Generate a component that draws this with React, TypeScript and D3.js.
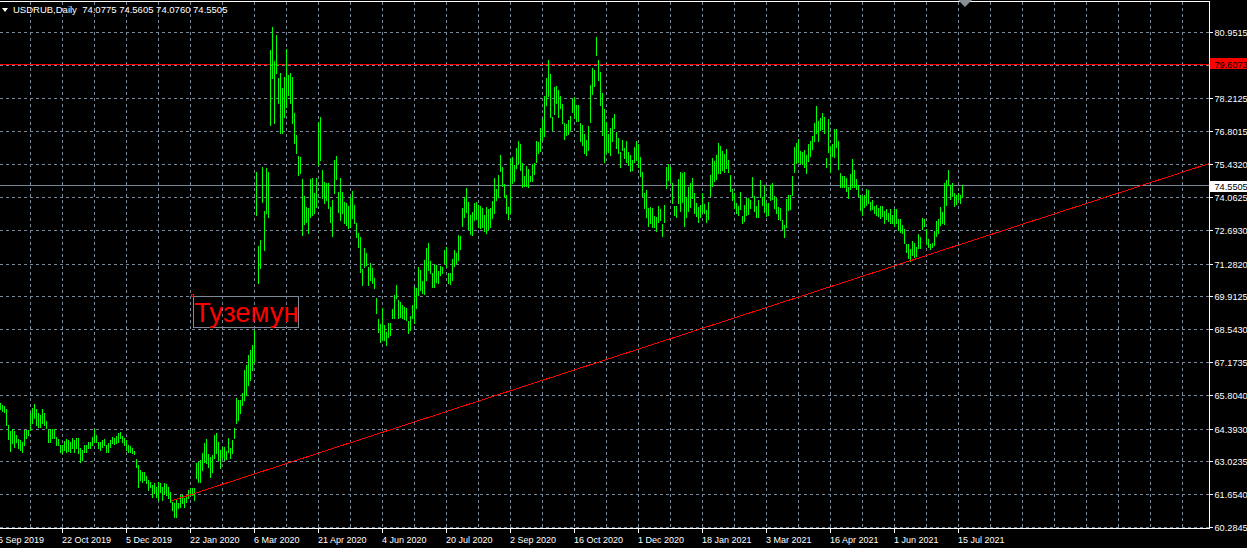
import React from "react";
import * as d3 from "d3";

// ---------- data ----------
const symbol = "USDRUB";
const timeframe = "Daily";
const lastBarOHLC = ["74.0775", "74.5605", "74.0760", "74.5505"];

// daily highs, oldest -> newest
const highs = [
  65.45,65.37,65.33,65.20,64.54,64.28,64.37,64.28,64.12,63.95,63.91,63.82,64.33,64.33,64.33,65.04,
  65.25,65.41,65.20,65.04,64.95,65.20,65.04,64.70,64.33,64.37,64.37,64.37,64.03,63.95,63.70,63.70,
  63.87,63.95,63.91,63.82,63.99,63.91,63.99,63.99,63.57,63.49,63.70,63.70,63.82,63.82,64.03,64.37,
  64.12,63.82,63.82,63.91,63.95,63.70,63.78,63.91,64.03,63.99,64.08,64.20,64.24,64.08,63.99,63.91,
  63.70,63.66,63.57,63.45,63.11,62.86,62.65,62.57,62.57,62.40,62.24,62.15,62.03,62.11,61.94,62.15,
  62.11,61.94,62.11,62.07,61.94,61.73,61.32,61.27,61.40,61.27,61.61,61.61,61.48,61.61,61.82,61.90,
  61.90,61.90,62.95,62.99,63.07,63.36,63.78,63.95,63.32,63.20,63.28,64.12,64.20,63.82,63.49,63.62,
  63.62,63.45,63.99,63.57,63.91,64.41,65.66,65.58,65.58,65.87,66.83,67.04,67.46,67.67,67.88,68.51,
  75.12,72.02,72.27,75.33,73.48,75.26,75.12,80.21,81.18,79.72,80.84,79.03,79.24,78.61,79.09,80.24,
  79.17,79.24,79.09,77.56,76.66,75.78,75.75,74.80,74.11,73.66,73.59,74.80,74.85,74.22,74.85,77.21,
  77.42,75.19,74.70,74.64,74.66,73.66,73.94,75.61,75.78,74.29,74.85,74.29,73.87,73.80,73.69,74.08,
  74.33,73.73,72.99,72.55,72.41,71.04,71.92,71.71,71.15,71.29,71.08,70.67,69.83,68.95,
  68.76,69.43,68.71,68.43,68.80,68.80,69.38,69.97,70.39,69.76,69.69,69.55,69.48,69.43,68.89,69.09,
  69.55,70.32,70.26,71.15,71.01,70.55,71.43,71.93,72.14,71.39,70.89,71.26,71.22,70.98,71.18,71.15,
  71.85,71.98,70.90,70.90,71.47,71.85,71.74,72.48,72.44,73.61,74.08,74.44,73.87,73.31,73.45,73.81,
  73.87,73.73,73.69,73.61,73.31,73.65,73.56,73.61,73.91,74.86,74.40,74.99,75.82,75.33,74.61,74.15,73.65,
  75.70,75.74,75.40,76.11,76.38,76.28,75.50,74.94,75.36,75.24,74.94,75.44,75.50,76.38,76.34,76.95,
  77.33,78.29,79.04,79.79,79.21,77.42,78.66,78.71,78.51,78.29,77.95,77.16,77.12,77.28,77.45,78.16,
  78.25,77.91,77.91,77.16,77.08,76.70,76.45,77.03,78.75,79.46,79.37,80.75,79.79,79.30,78.41,77.74,
  77.21,76.70,76.95,77.37,77.53,76.79,76.53,75.96,76.45,76.11,76.38,75.96,75.82,75.61,76.17,76.38,
  76.28,75.74,75.12,74.23,74.36,73.61,73.66,73.61,73.27,73.24,73.69,73.56,72.94,73.73,75.33,75.44,
  75.33,74.64,73.69,73.69,74.82,75.12,75.08,75.12,74.08,74.50,74.64,74.86,74.23,73.81,73.66,
  73.73,74.23,73.77,73.52,73.87,74.99,75.68,75.58,75.82,76.31,76.20,76.00,75.86,76.06,75.61,74.99,
  74.39,74.22,73.80,73.69,74.29,73.27,73.73,74.01,74.01,73.94,74.89,74.11,73.69,73.94,74.78,74.08,
  74.57,73.80,73.83,74.57,74.66,74.11,74.01,73.66,73.59,73.10,72.90,73.97,74.15,74.15,74.94,76.14,
  76.31,76.48,76.00,75.96,76.03,75.82,76.28,76.38,76.59,77.17,77.87,77.25,77.35,77.59,77.42,75.68,
  77.31,76.20,76.28,76.90,76.90,76.38,75.08,74.94,74.94,74.85,74.50,75.03,75.64,75.19,74.81,74.57,
  74.15,74.11,74.15,74.39,74.36,73.87,73.94,73.69,73.73,73.59,73.69,73.69,73.49,73.55,73.38,
  73.55,73.31,73.55,73.55,73.13,73.13,72.90,72.72,72.10,72.10,71.88,72.24,72.13,71.96,72.52,72.38,
  73.17,73.13,72.72,72.30,72.10,72.15,72.66,73.07,73.13,73.66,73.45,74.66,74.78,75.19,74.57,74.64,
  74.25,74.15,74.25,74.15,74.5605,
];

// daily lows, oldest -> newest
const lows = [
  65.20,65.12,65.08,64.54,63.95,63.45,63.78,63.62,63.82,63.57,63.49,63.41,63.70,63.99,64.12,64.33,
  64.62,64.83,64.54,64.45,64.45,64.62,64.54,64.41,63.82,63.82,63.99,63.99,63.70,63.70,63.41,63.36,
  63.49,63.41,63.45,63.41,63.57,63.41,63.57,63.36,62.99,63.07,63.41,63.41,63.57,63.57,63.70,63.82,
  63.82,63.57,63.49,63.62,63.70,63.41,63.41,63.62,63.78,63.74,63.78,63.82,63.99,63.82,63.70,63.49,
  63.41,63.41,63.36,63.32,62.78,61.94,62.24,62.15,62.24,62.11,61.82,61.94,61.53,61.69,61.53,61.40,
  61.73,61.40,61.69,61.61,61.48,61.32,60.98,60.69,60.69,61.07,61.11,61.27,61.11,61.32,61.48,61.61,
  61.61,61.40,62.32,62.15,62.15,62.65,62.99,62.95,62.78,62.36,62.57,63.16,63.36,63.07,62.74,63.20,
  63.07,63.11,63.41,63.16,63.36,63.99,64.62,64.74,65.04,65.37,65.58,65.79,66.21,66.42,66.83,67.17,
  73.31,70.46,71.08,73.87,71.85,73.38,73.24,77.07,79.03,77.15,79.24,77.98,76.75,76.73,77.42,77.84,
  78.33,77.98,77.15,76.31,75.89,74.99,75.06,72.48,72.94,73.03,72.55,73.24,73.31,73.38,73.66,75.40,
  75.61,74.01,73.80,73.94,73.59,73.03,72.43,74.22,74.80,73.45,73.10,73.38,72.97,72.90,72.76,72.82,
  73.17,72.97,72.41,71.99,70.94,70.39,71.15,71.22,70.39,70.60,70.46,70.25,69.20,68.43,
  68.02,68.09,68.09,67.88,68.23,68.30,69.01,69.01,69.84,69.01,69.06,69.01,68.97,68.92,68.38,68.51,
  69.01,68.80,69.43,69.97,70.18,70.05,70.01,70.60,71.01,70.89,70.32,70.32,70.52,70.48,70.80,70.90,
  71.32,71.14,70.46,70.43,70.60,71.18,71.29,71.43,71.89,72.85,73.24,73.45,72.73,72.52,72.48,73.10,
  73.15,72.82,72.77,72.82,72.66,72.57,72.73,72.81,73.19,73.41,73.94,74.08,75.16,74.53,74.07,73.40,73.15,
  73.40,74.65,74.75,75.28,75.50,75.19,74.47,74.53,74.53,74.47,74.75,74.75,75.03,75.54,75.89,76.00,
  76.45,76.61,77.91,78.26,77.41,76.84,77.53,77.99,77.42,77.79,77.16,76.49,76.66,76.70,76.87,77.63,
  77.37,77.25,77.25,76.38,76.24,75.92,75.82,76.03,77.21,78.37,78.68,80.00,78.96,77.91,76.66,75.54,
  75.96,75.96,75.82,76.42,76.95,76.11,75.89,75.33,76.03,75.70,75.54,75.40,75.16,75.19,75.54,75.61,
  75.32,74.94,74.11,73.61,73.24,72.85,72.99,72.82,72.82,72.66,73.03,73.10,72.43,73.03,74.43,74.78,
  74.64,73.80,73.31,73.22,73.80,73.49,73.87,72.85,73.24,73.49,73.63,74.02,73.40,73.27,73.03,
  73.24,73.45,73.40,73.03,73.13,74.11,74.53,74.75,74.81,75.06,75.08,75.19,75.12,75.26,75.12,74.33,
  73.94,73.59,73.41,73.31,73.55,72.97,73.07,73.31,73.35,73.59,74.05,73.49,73.22,73.22,74.05,73.73,
  73.45,73.27,73.31,73.94,73.97,73.59,73.41,73.13,73.10,72.72,72.38,72.80,73.52,73.55,74.15,75.12,
  75.47,75.54,75.50,75.44,75.33,75.06,75.58,75.78,76.06,76.42,76.75,76.42,76.87,76.90,76.75,75.31,
  75.96,75.12,75.78,75.75,76.14,75.22,74.47,74.47,74.50,74.33,74.01,74.39,74.50,74.47,74.39,74.11,
  73.52,73.31,73.63,73.73,73.80,73.52,73.55,73.38,73.31,73.27,73.17,73.27,72.99,73.13,73.07,
  72.99,72.99,72.85,72.99,72.69,72.61,72.57,72.16,71.78,71.50,71.40,71.64,71.54,71.60,71.92,71.92,
  72.72,72.85,72.10,71.96,71.88,71.96,72.06,72.44,72.57,72.90,72.99,72.94,73.73,74.57,73.97,74.11,
  73.69,73.77,73.97,73.83,74.076,
];

const priceTicks = [
  60.2845, 61.654, 63.0235, 64.393, 65.804, 67.1735, 68.543, 69.9125,
  71.282, 72.693, 74.0625, 75.432, 76.8015, 78.2125, 79.582, 80.9515,
];

const dateLabels = [
  "6 Sep 2019", "22 Oct 2019", "5 Dec 2019", "22 Jan 2020", "6 Mar 2020",
  "21 Apr 2020", "4 Jun 2020", "20 Jul 2020", "2 Sep 2020", "16 Oct 2020",
  "1 Dec 2020", "18 Jan 2021", "3 Mar 2021", "16 Apr 2021", "1 Jun 2021", "15 Jul 2021",
];
const firstLabelBar = -1;
const barsPerLabel = 32;

const levelPrice = 79.6073;
const bidPrice = 74.5505;
const trendAnchors = [
  { bar: 85, price: 61.36 },
  { bar: 455, price: 71.4 },
];
const noteText = "Туземун";
const noteAnchor = { bar: 96, price: 69.95 };

// ---------- layout ----------
const W = 1247;
const H = 548;
const plotRight = 1209;
const plotTop = 1;
const plotBottom = 528;
const FONT = "'Liberation Sans', Arial, sans-serif";
const GRID = "#778899";
const DASH = "3,3";
const AXIS_FS = 9.2;

export default function App() {
  const n = highs.length;
  const x = d3.scaleLinear().domain([0, n - 1]).range([0, 2 * (n - 1)]);
  const y = d3.scaleLinear().domain([60.2845, 80.9515]).range([527, 32]);

  const vGrid: number[] = [];
  for (let b = 15; x(b) < plotRight; b += 16) vGrid.push(x(b) + 0.5);

  const slope =
    (trendAnchors[1].price - trendAnchors[0].price) /
    (trendAnchors[1].bar - trendAnchors[0].bar);
  const endBar = x.invert(plotRight);
  const endPrice = trendAnchors[0].price + slope * (endBar - trendAnchors[0].bar);

  const levelY = Math.round(y(levelPrice)) + 0.5;
  const bidY = Math.round(y(bidPrice)) + 0.5;
  const ax = x(noteAnchor.bar);
  const ay = Math.round(y(noteAnchor.price));

  return (
    <>
      <style>{`body{margin:0;background:#000;}`}</style>
      <svg width={W} height={H} style={{ display: "block", background: "#000" }} fontFamily={FONT}>
        <rect x={0} y={0} width={W} height={H} fill="#000" />
        <defs>
          <clipPath id="plot">
            <rect x={0} y={plotTop} width={plotRight} height={plotBottom - plotTop} />
          </clipPath>
        </defs>

        {/* grid */}
        <g stroke={GRID} strokeWidth={1} strokeDasharray={DASH} shapeRendering="crispEdges">
          {priceTicks.map((t) => {
            const gy = Math.round(y(t)) + 0.5;
            return <line key={"h" + t} x1={0} x2={plotRight} y1={gy} y2={gy} />;
          })}
          {vGrid.map((gx) => (
            <line key={"v" + gx} x1={gx} x2={gx} y1={plotTop + 1} y2={plotBottom} />
          ))}
        </g>

        {/* horizontal level and bid line */}
        <line x1={0} x2={plotRight} y1={levelY} y2={levelY} stroke="#ff0000" shapeRendering="crispEdges" />
        <line x1={0} x2={plotRight} y1={bidY} y2={bidY} stroke={GRID} shapeRendering="crispEdges" />

        {/* bars */}
        <g fill="#00ff00" shapeRendering="crispEdges">
          {highs.map((h, i) => {
            const top = Math.round(y(h));
            const bot = Math.round(y(lows[i]));
            return <rect key={i} x={x(i)} y={top} width={1} height={Math.max(1, bot - top + 1)} />;
          })}
        </g>

        {/* trend line */}
        <g clipPath="url(#plot)">
          <line
            x1={x(trendAnchors[0].bar) + 0.5}
            y1={y(trendAnchors[0].price)}
            x2={plotRight}
            y2={y(endPrice)}
            stroke="#ff0000"
            strokeWidth={1}
            shapeRendering="crispEdges"
          />
        </g>

        {/* text object */}
        <rect x={ax + 1.5} y={ay + 1.5} width={105} height={31} fill="none" stroke="#7f8a96" shapeRendering="crispEdges" />
        <rect x={ax - 0.5} y={ay - 0.5} width={2} height={2} fill="none" stroke="#ff0000" shapeRendering="crispEdges" />
        <text x={ax + 2} y={ay + 27} fill="#ff0000" fontSize={27.5}>
          {noteText}
        </text>

        {/* frame */}
        <g stroke="#ffffff" shapeRendering="crispEdges">
          <line x1={0} x2={plotRight + 0.5} y1={plotTop + 0.5} y2={plotTop + 0.5} />
          <line x1={plotRight + 0.5} x2={plotRight + 0.5} y1={plotTop} y2={plotBottom + 1} />
          <line x1={0} x2={plotRight + 0.5} y1={plotBottom + 0.5} y2={plotBottom + 0.5} />
        </g>

        {/* price axis */}
        <g fontSize={AXIS_FS} fill="#ffffff">
          {priceTicks.map((t) => {
            const gy = Math.round(y(t)) + 0.5;
            return (
              <g key={"p" + t}>
                <line x1={plotRight} x2={plotRight + 4} y1={gy} y2={gy} stroke="#ffffff" shapeRendering="crispEdges" />
                <text x={plotRight + 5.5} y={gy + 3.5}>{t.toFixed(4)}</text>
              </g>
            );
          })}
        </g>

        {/* price labels */}
        <rect x={plotRight + 1} y={levelY - 6.5} width={W - plotRight} height={11} fill="#ff0000" />
        <text x={plotRight + 5.5} y={levelY + 3.5} fontSize={AXIS_FS} fill="#000000">{levelPrice.toFixed(4)}</text>
        <rect x={plotRight + 1} y={bidY - 4.5} width={W - plotRight} height={11} fill="#ffffff" />
        <text x={plotRight + 5.5} y={bidY + 4.5} fontSize={AXIS_FS} fill="#000000">{bidPrice.toFixed(4)}</text>

        {/* time axis */}
        <g fontSize={9} fill="#ffffff">
          {dateLabels.map((lab, k) => {
            const tx = x(firstLabelBar + k * barsPerLabel) + 0.5;
            return (
              <g key={lab}>
                <line x1={tx} x2={tx} y1={plotBottom} y2={plotBottom + 5} stroke="#ffffff" shapeRendering="crispEdges" />
                <text x={tx - 0.5} y={543}>{lab}</text>
              </g>
            );
          })}
        </g>

        {/* header */}
        <polygon points="2,8 8,8 5,12" fill="#ffffff" />
        <text x={13} y={12.5} fontSize={9.5} fill="#ffffff" style={{ whiteSpace: "pre" }}>
          {`${symbol},${timeframe}  ${lastBarOHLC.join(" ")}`}
        </text>

        {/* chart shift marker */}
        <polygon points="958,0 972,0 965,7" fill="#8a8f96" />
      </svg>
    </>
  );
}
